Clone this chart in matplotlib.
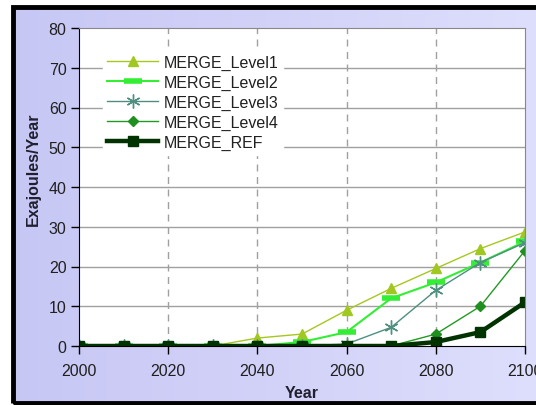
import matplotlib.pyplot as plt
import numpy as np
from matplotlib.patches import Rectangle

plt.rcParams['font.family'] = ['Liberation Sans', 'DejaVu Sans']

years = [2000, 2010, 2020, 2030, 2040, 2050, 2060, 2070, 2080, 2090, 2100]
level1 = [0, 0, 0, 0, 2, 3, 9, 14.5, 19.5, 24.5, 28.7]
level2 = [0, 0, 0, 0, 0, 1, 3.5, 12, 16, 21, 26.3]
level3 = [0, 0, 0, 0, 0, 0, 0.5, 4.7, 14, 21, 26]
level4 = [0, 0, 0, 0, 0, 0, 0, 0, 3, 10, 24]
ref = [0, 0, 0, 0, 0, 0, 0, 0, 1, 3.5, 11]

fig = plt.figure(figsize=(5.36, 4.06), dpi=100, facecolor='white')

# lavender panel with gradient
bg = fig.add_axes([13/536, 2/406, 1 - 13/536, 396/406], zorder=-10)
grad = np.linspace(0, 1, 256)
c0 = np.array([0.78, 0.78, 0.96])
c1 = np.array([0.87, 0.87, 0.99])
img = c0[None, :] + (c1 - c0)[None, :] * grad[:, None]
bg.imshow(img[None, :, :], aspect='auto', extent=[0, 1, 0, 1])
bg.set_xlim(0, 1)
bg.set_ylim(0, 1)
bg.axis('off')
fig.patches.append(Rectangle((13/536, 2/406), 1.0, 396/406, transform=fig.transFigure,
                             fill=False, edgecolor='black', linewidth=3.5, zorder=-5))

ax = fig.add_axes([79/536, 1 - 347/406, (525 - 79)/536, (347 - 29)/406])
ax.set_facecolor('white')

ax.plot(years, level1, color='#a6c81e', lw=1, marker='^', ms=7, mfc='#a0c820', mec='#a0c820', label='MERGE_Level1')
ax.plot(years, level2, color='#33ee33', lw=1.5, marker='_', ms=13, mew=4, mec='#33ee33', label='MERGE_Level2')
ax.plot(years, level3, color='#4f8f80', lw=1, marker=(6, 2, 0), ms=10, mew=1, mec='#4f9080', label='MERGE_Level3')
ax.plot(years, level4, color='#239a23', lw=1, marker='D', ms=5.5, mfc='#1f8f1f', mec='#1f8f1f', label='MERGE_Level4')
ax.plot(years, ref, color='#003300', lw=3.2, marker='s', ms=7, mfc='#003300', mec='#003300', label='MERGE_REF')

ax.set_xlim(2000, 2100)
ax.set_ylim(0, 80)
ax.set_xticks([2000, 2020, 2040, 2060, 2080, 2100])
ax.set_yticks(range(0, 90, 10))
ax.tick_params(axis='both', direction='out', length=6, width=1, labelsize=11.5, colors='black', labelcolor='#202020')
ax.tick_params(axis='x', pad=6)
ax.tick_params(axis='y', pad=3)

for y in range(10, 80, 10):
    ax.axhline(y, color='#a0a0a0', lw=1, zorder=0)
for x in [2020, 2040, 2060, 2080]:
    ax.axvline(x, color='#a0a0a0', lw=1, ls=(0, (5, 4)), zorder=0)

ax.spines['left'].set_color('black')
ax.spines['bottom'].set_color('black')
ax.spines['top'].set_color('#888888')
ax.spines['right'].set_color('#888888')

ax.set_xlabel('Year', fontsize=11.5, fontweight='bold', color='#202030', labelpad=5)
ax.set_ylabel('Exajoules/Year', fontsize=11.5, fontweight='bold', color='#202030')
ax.yaxis.set_label_coords(-0.085, 0.56)

leg = ax.legend(loc='upper left', bbox_to_anchor=(0.035, 0.955), frameon=True, fancybox=False,
                edgecolor='white', facecolor='white', framealpha=1, fontsize=11.5,
                handlelength=3.2, handletextpad=0.3, labelspacing=0.3, borderpad=0.3)
for t in leg.get_texts():
    t.set_color('#202020')

fig.savefig('out.png', dpi=100)
